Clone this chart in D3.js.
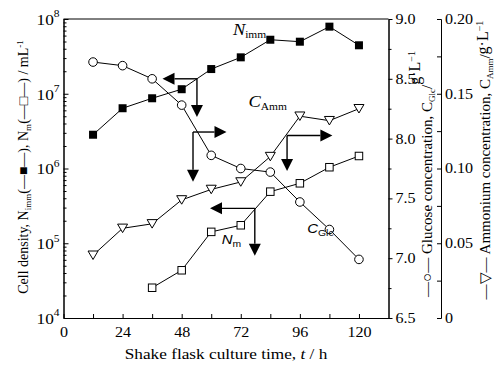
<!DOCTYPE html>
<html>
<head>
<meta charset="utf-8">
<script src="https://cdn.jsdelivr.net/npm/d3@7"></script>
<style>
body{margin:0;background:#fff}
svg{display:block;font-family:"Liberation Serif","Times New Roman",serif}
</style>
</head>
<body>
<svg id="chart" width="500" height="369"></svg>
<script>
// culture time (h) and measured values
var hours = [12,24,36,48,60,72,84,96,108,120];
var nImm = [2.83e6,6.4e6,8.7e6,1.15e7,2.14e7,3.07e7,5.28e7,4.97e7,7.9e7,4.45e7];
var nmHours = [36,48,60,72,84,96,108,120];
var nM = [2.54e4,4.35e4,1.42e5,1.74e5,4.9e5,6.34e5,1.04e6,1.47e6];
var glucose = [8.64,8.61,8.50,8.28,7.86,7.75,7.72,7.47,7.24,6.99];
var ammonium = [0.042,0.060,0.063,0.079,0.086,0.091,0.108,0.135,0.132,0.140];

var xTicks = [0,24,48,72,96,120];
var glcTicks = [6.5,7.0,7.5,8.0,8.5,9.0];
var ammTicks = [0,0.05,0.10,0.15,0.20];

// arrows pointing each curve to its axis (time, glucose units)
var arrows = [
  {t:54.2, g:8.50,  tx:40.2,  gy:8.18, dir:"left"},
  {t:52.6, g:8.055, tx:66.2,  gy:7.64, dir:"right"},
  {t:90.8, g:8.026, tx:109.2, gy:7.73, dir:"right"},
  {t:77.7, g:7.417, tx:59.5,  gy:7.02, dir:"left"}
];

var SX = 1.15; // horizontal text stretch

var svg = d3.select("#chart");

var xScale = d3.scaleLinear().domain([0,132]).range([63.5,388.5]);
var yCell = d3.scaleLog().domain([1e4,1e8]).range([318,19]);
var yGlc = d3.scaleLinear().domain([6.5,9]).range([318,19]);
var yAmm = d3.scaleLinear().domain([0,0.2]).range([318,19]);

function clean(g){
  g.attr("font-family",null).attr("font-size",null);
  g.selectAll("path,line").attr("stroke","#000").attr("stroke-width",1);
}

// top frame
svg.append("line")
   .attr("x1",xScale(0)).attr("x2",xScale(132))
   .attr("y1",yGlc(9)).attr("y2",yGlc(9))
   .attr("stroke","#000");

// x axis
var xAxis = d3.axisBottom(xScale)
              .tickValues(d3.range(0,121,12))
              .tickSize(-4).tickSizeOuter(0).tickPadding(9)
              .tickFormat(function(d){ return xTicks.indexOf(d)>=0 ? d : ""; });
svg.append("g")
   .attr("transform","translate(0,318)")
   .call(xAxis)
   .call(clean)
   .selectAll("text")
   .attr("font-size",14).attr("fill","#000")
   .attr("transform","scale("+SX+",1)");

// left log axis, minor then major ticks
var minorCell = yCell.ticks().filter(function(d){
  return Math.abs(Math.log10(d)-Math.round(Math.log10(d)))>1e-6;
});
svg.append("g")
   .attr("transform","translate(63.5,0)")
   .call(d3.axisLeft(yCell).tickValues(minorCell).tickSize(-3).tickSizeOuter(0).tickFormat(""))
   .call(clean);
var leftAxis = svg.append("g")
   .attr("transform","translate(63.5,0)")
   .call(d3.axisLeft(yCell).tickValues([1e4,1e5,1e6,1e7,1e8]).tickSize(-5).tickSizeOuter(0))
   .call(clean);
leftAxis.selectAll("text").each(function(d){
  var t = d3.select(this).text("")
            .attr("x",-4/SX).attr("dy","0.35em")
            .attr("font-size",15).attr("fill","#000")
            .attr("transform","scale("+SX+",1)");
  t.append("tspan").text("10");
  t.append("tspan").attr("font-size",10).attr("dy","-0.75em")
   .text(Math.round(Math.log10(d)));
});

// glucose axis (right frame)
var glcX = xScale(132);
svg.append("g")
   .attr("transform","translate("+glcX+",0)")
   .call(d3.axisRight(yGlc).tickValues([6.75,7.25,7.75,8.25,8.75]).tickSize(3).tickSizeOuter(0).tickFormat(""))
   .call(clean);
svg.append("g")
   .attr("transform","translate("+glcX+",0)")
   .call(d3.axisRight(yGlc).tickValues(glcTicks).tickSize(4).tickSizeOuter(0).tickPadding(3)
          .tickFormat(d3.format(".1f")))
   .call(clean)
   .selectAll("text")
   .attr("font-size",14).attr("fill","#000")
   .attr("x",7/SX)
   .attr("transform","scale("+SX+",1)");

// ammonium axis
var ammX = 441;
svg.append("g")
   .attr("transform","translate("+ammX+",0)")
   .call(d3.axisRight(yAmm).tickValues([0.025,0.075,0.125,0.175]).tickSize(-4).tickSizeOuter(0).tickFormat(""))
   .call(clean);
svg.append("g")
   .attr("transform","translate("+ammX+",0)")
   .call(d3.axisRight(yAmm).tickValues(ammTicks).tickSize(-4).tickSizeOuter(0).tickPadding(4)
          .tickFormat(function(d){ return d===0 ? "0" : d3.format(".2f")(d); }))
   .call(clean)
   .selectAll("text")
   .attr("font-size",14).attr("fill","#000")
   .attr("x",4/SX)
   .attr("transform","scale("+SX+",1)");

// series lines
var plot = svg.append("g");
function drawLine(xs,ys,yScale){
  var line = d3.line()
               .x(function(d){ return xScale(d[0]); })
               .y(function(d){ return yScale(d[1]); });
  plot.append("path")
      .datum(d3.zip(xs,ys))
      .attr("d",line)
      .attr("fill","none")
      .attr("stroke","#000")
      .attr("stroke-width",1);
}
drawLine(hours,nImm,yCell);
drawLine(nmHours,nM,yCell);
drawLine(hours,glucose,yGlc);
drawLine(hours,ammonium,yAmm);

// markers
plot.selectAll("rect.imm")
    .data(d3.zip(hours,nImm))
    .enter().append("rect")
    .attr("x",function(d){ return xScale(d[0])-4; })
    .attr("y",function(d){ return yCell(d[1])-4; })
    .attr("width",8).attr("height",8)
    .attr("fill","#000");

plot.selectAll("rect.nm")
    .data(d3.zip(nmHours,nM))
    .enter().append("rect")
    .attr("x",function(d){ return xScale(d[0])-3.75; })
    .attr("y",function(d){ return yCell(d[1])-3.75; })
    .attr("width",7.5).attr("height",7.5)
    .attr("fill","#fff").attr("stroke","#000").attr("stroke-width",1);

plot.selectAll("circle")
    .data(d3.zip(hours,glucose))
    .enter().append("circle")
    .attr("cx",function(d){ return xScale(d[0]); })
    .attr("cy",function(d){ return yGlc(d[1]); })
    .attr("r",4.3)
    .attr("fill","#fff").attr("stroke","#000").attr("stroke-width",1);

plot.selectAll("path.amm")
    .data(d3.zip(hours,ammonium))
    .enter().append("path")
    .attr("d","M-5,-4.2L5,-4.2L0,4.3Z")
    .attr("transform",function(d){
      return "translate("+xScale(d[0])+","+yAmm(d[1])+")";
    })
    .attr("fill","#fff").attr("stroke","#000").attr("stroke-width",1);

// arrows
var L = 12, W = 6;
arrows.forEach(function(a){
  var vx = xScale(a.t), vy = yGlc(a.g);
  var hx = xScale(a.tx), dy = yGlc(a.gy);
  var sgn = a.dir==="left" ? 1 : -1;
  svg.append("line")
     .attr("x1",vx).attr("y1",vy).attr("x2",hx+sgn*L).attr("y2",vy)
     .attr("stroke","#000").attr("stroke-width",1.4);
  svg.append("line")
     .attr("x1",vx).attr("y1",vy).attr("x2",vx).attr("y2",dy-L)
     .attr("stroke","#000").attr("stroke-width",1.4);
  svg.append("path")
     .attr("d","M"+hx+","+vy+"L"+(hx+sgn*L)+","+(vy-W)+"L"+(hx+sgn*L)+","+(vy+W)+"Z")
     .attr("fill","#000");
  svg.append("path")
     .attr("d","M"+vx+","+dy+"L"+(vx-W)+","+(dy-L)+"L"+(vx+W)+","+(dy-L)+"Z")
     .attr("fill","#000");
});

// curve labels
function curveLabel(t,g,main,sub,sans,size,subSize){
  var txt = svg.append("text")
     .attr("transform","translate("+xScale(t)+","+yGlc(g)+") scale("+SX+",1)")
     .attr("font-size",size)
     .attr("font-family",sans ? "'Liberation Sans',Arial,sans-serif" : null);
  txt.append("tspan").attr("font-style","italic").text(main);
  txt.append("tspan").attr("font-size",subSize).attr("dy",3).text(sub);
}
curveLabel(68.8,8.866,"N","imm",false,16,10);
curveLabel(75.1,8.267,"C","Amm",false,16,10);
curveLabel(64.3,7.119,"N","m",true,13,9);
curveLabel(99.0,7.208,"C","Glc",true,13,9);

// x axis title
var xt = svg.append("text")
   .attr("transform","translate(226,359) scale("+SX+",1)")
   .attr("text-anchor","middle")
   .attr("font-size",15);
xt.append("tspan").text("Shake flask culture time, ");
xt.append("tspan").attr("font-style","italic").text("t");
xt.append("tspan").text(" / h");

// left title
var lt = svg.append("text")
   .attr("transform","translate(28,167) rotate(-90)")
   .attr("text-anchor","middle")
   .attr("font-size",14);
lt.append("tspan").text("Cell density, N");
lt.append("tspan").attr("font-size",9).attr("dy",3).text("imm");
lt.append("tspan").attr("dy",-3).text("(\u2014\u25A0\u2014), N");
lt.append("tspan").attr("font-size",9).attr("dy",3).text("m");
lt.append("tspan").attr("dy",-3).text("(\u2014\u25A1\u2014) / mL");
lt.append("tspan").attr("font-size",9).attr("dy",-5).text("-1");

// glucose title
var gt = svg.append("text")
   .attr("transform","translate(432,174) rotate(-90)")
   .attr("text-anchor","middle")
   .attr("font-size",15);
gt.append("tspan").text("\u2014\u25CB\u2014 Glucose concentration, C");
gt.append("tspan").attr("font-size",9).attr("dy",3).text("Glc");
gt.append("tspan").attr("dy",-3).text("/");
gt.append("tspan").attr("font-size",16).attr("dy",-12).text("g\u00B7L");
gt.append("tspan").attr("font-size",10).attr("dy",-5).text("\u22121");

// ammonium title
var at = svg.append("text")
   .attr("transform","translate(490,160) rotate(-90)")
   .attr("text-anchor","middle")
   .attr("font-size",15);
at.append("tspan").text("\u2014\u25BD\u2014 Ammonium concentration, C");
at.append("tspan").attr("font-size",9).attr("dy",3).text("Amm");
at.append("tspan").attr("dy",-3).text("/");
at.append("tspan").attr("font-size",16).attr("dy",-2).text("g\u00B7L");
at.append("tspan").attr("font-size",10).attr("dy",-5).text("\u22121");
</script>
</body>
</html>
